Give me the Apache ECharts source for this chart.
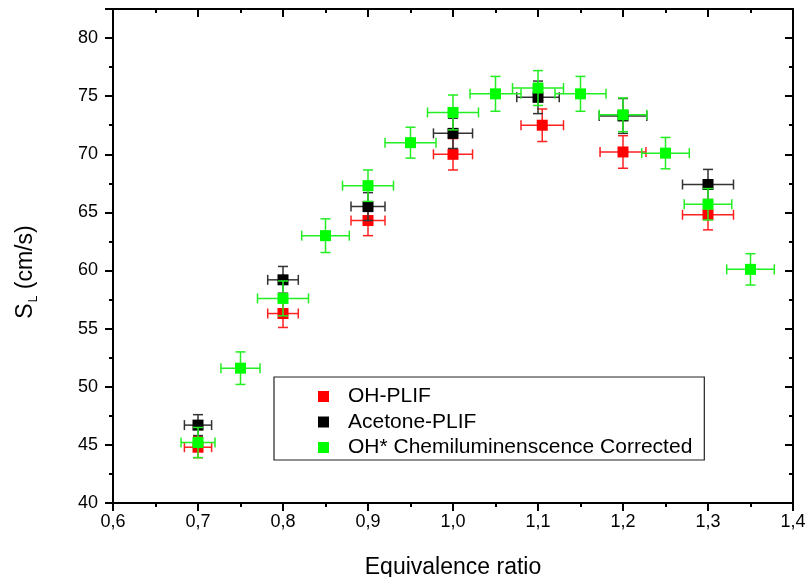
<!DOCTYPE html>
<html>
<head>
<meta charset="utf-8">
<script src="https://cdn.jsdelivr.net/npm/echarts@6/dist/echarts.min.js"></script>
<style>
  html, body { margin: 0; padding: 0; background: #fff; }
  #chart { width: 810px; height: 577px; }
</style>
</head>
<body>
<div id="chart"></div>
<script>
// equivalence ratio, S_L (cm/s), x error, y error
const phiRed = [0.7, 0.8, 0.9, 1.0, 1.105, 1.2, 1.3];
const slRed = [44.8, 56.3, 64.3, 70.0, 72.5, 70.2, 64.8];
const xErrRed = [0.016, 0.018, 0.02, 0.023, 0.025, 0.027, 0.03];
const yErrRed = [0.9, 1.2, 1.3, 1.35, 1.4, 1.4, 1.3];

const phiBlack = [0.7, 0.8, 0.9, 1.0, 1.1, 1.2, 1.3];
const slBlack = [46.7, 59.2, 65.5, 71.8, 74.9, 73.3, 67.4];
const xErrBlack = [0.016, 0.018, 0.02, 0.023, 0.025, 0.028, 0.03];
const yErrBlack = [0.9, 1.15, 1.2, 1.3, 1.4, 1.5, 1.3];

const phiGreen = [0.7, 0.75, 0.8, 0.85, 0.9, 0.95, 1.0, 1.05, 1.1, 1.15, 1.2, 1.25, 1.3, 1.35];
const slGreen = [45.2, 51.6, 57.6, 63.0, 67.3, 71.0, 73.6, 75.2, 75.7, 75.2, 73.4, 70.1, 65.7, 60.1];
const xErrGreen = [0.02, 0.023, 0.03, 0.028, 0.03, 0.03, 0.03, 0.03, 0.03, 0.03, 0.028, 0.028, 0.028, 0.028];
const yErrGreen = [1.3, 1.4, 1.5, 1.45, 1.35, 1.33, 1.5, 1.5, 1.5, 1.5, 1.45, 1.35, 1.35, 1.35];

const seriesNames = ["OH-PLIF", "Acetone-PLIF", "OH* Chemiluminenscence Corrected"];

const FONT = "'Liberation Sans', Arial, sans-serif";

const chart = echarts.init(document.getElementById("chart"), null, { renderer: "canvas" });

function rows(xs, ys, dxs, dys) {
  return xs.map((x, i) => [x, ys[i], dxs[i], dys[i]]);
}

// draws horizontal + vertical error bars with caps
function errorBars(color) {
  return function (params, api) {
    const x = api.value(0);
    const y = api.value(1);
    const dx = api.value(2);
    const dy = api.value(3);
    const c = api.coord([x, y]);
    const l = api.coord([x - dx, y]);
    const r = api.coord([x + dx, y]);
    const t = api.coord([x, y + dy]);
    const b = api.coord([x, y - dy]);
    const cap = 5;
    const style = { stroke: color, lineWidth: 1.5, fill: null };
    return {
      type: "group",
      children: [
        { type: "line", shape: { x1: l[0], y1: c[1], x2: r[0], y2: c[1] }, style },
        { type: "line", shape: { x1: l[0], y1: c[1] - cap, x2: l[0], y2: c[1] + cap }, style },
        { type: "line", shape: { x1: r[0], y1: c[1] - cap, x2: r[0], y2: c[1] + cap }, style },
        { type: "line", shape: { x1: c[0], y1: t[1], x2: c[0], y2: b[1] }, style },
        { type: "line", shape: { x1: c[0] - cap, y1: t[1], x2: c[0] + cap, y2: t[1] }, style },
        { type: "line", shape: { x1: c[0] - cap, y1: b[1], x2: c[0] + cap, y2: b[1] }, style },
      ],
    };
  };
}

const groups = [
  { name: seriesNames[0], color: "#ff0000", bar: "#ff2020", data: rows(phiRed, slRed, xErrRed, yErrRed) },
  { name: seriesNames[1], color: "#000000", bar: "#333333", data: rows(phiBlack, slBlack, xErrBlack, yErrBlack) },
  { name: seriesNames[2], color: "#00ff00", bar: "#22ee22", data: rows(phiGreen, slGreen, xErrGreen, yErrGreen) },
];

const series = [];
groups.forEach((g, i) => {
  series.push({
    type: "custom",
    renderItem: errorBars(g.bar),
    data: g.data,
    encode: { x: 0, y: 1 },
    z: 2 + i * 2,
    silent: true,
  });
  series.push({
    name: g.name,
    type: "scatter",
    symbol: "rect",
    symbolSize: 11,
    itemStyle: { color: g.color, opacity: 1 },
    data: g.data.map((d) => [d[0], d[1]]),
    z: 3 + i * 2,
  });
});

const axisLine = { show: true, onZero: false, lineStyle: { color: "#000", width: 2 } };
const tick = (inside) => ({ show: true, inside, length: 8, lineStyle: { color: "#000", width: 2 } });
const minor = { show: true, splitNumber: 2, length: 4, lineStyle: { color: "#000", width: 2 } };
const fmtX = (v) => v.toFixed(1).replace(".", ",");

const option = {
  animation: false,
  backgroundColor: "#fff",
  textStyle: { fontFamily: FONT },
  grid: { left: 113, right: 17, top: 9, bottom: 74, outerBoundsMode: "none", containLabel: false },
  legend: {
    orient: "vertical",
    left: 274,
    top: 377,
    data: seriesNames,
    icon: "rect",
    itemWidth: 11,
    itemHeight: 11,
    itemGap: 4.5,
    padding: [9, 12, 2, 44],
    borderColor: "#222",
    borderWidth: 1.2,
    textStyle: { fontFamily: FONT, fontSize: 21, color: "#000", lineHeight: 21, padding: [0, 0, 0, 14] },
    selectedMode: false,
  },
  xAxis: [
    {
      type: "value",
      min: 0.6,
      max: 1.4,
      interval: 0.1,
      position: "bottom",
      name: "Equivalence ratio",
      nameLocation: "middle",
      nameGap: 53,
      nameTextStyle: { fontFamily: FONT, fontSize: 23, color: "#000" },
      axisLine,
      axisTick: tick(false),
      minorTick: minor,
      axisLabel: { margin: 10, fontFamily: FONT, fontSize: 18, color: "#000", formatter: fmtX },
      splitLine: { show: false },
    },
    {
      type: "value",
      min: 0.6,
      max: 1.4,
      interval: 0.1,
      position: "top",
      axisLine,
      axisTick: tick(true),
      minorTick: minor,
      axisLabel: { show: false },
      splitLine: { show: false },
    },
  ],
  yAxis: [
    {
      type: "value",
      min: 40,
      max: 82.5,
      interval: 5,
      position: "left",
      name: "{s|S}{sub|L}{s| (cm/s)}",
      nameLocation: "middle",
      nameGap: 73,
      nameTextStyle: {
        fontFamily: FONT,
        fontSize: 23,
        color: "#000",
        padding: [0, 32, 0, 0],
        rich: {
          s: { fontFamily: FONT, fontSize: 23, color: "#000" },
          sub: { fontFamily: FONT, fontSize: 12, color: "#000", padding: [16, 0, 0, 1] },
        },
      },
      axisLine,
      axisTick: tick(false),
      minorTick: minor,
      axisLabel: { margin: 15, fontFamily: FONT, fontSize: 18, color: "#000", showMaxLabel: false,
        formatter: (v) => (v % 5 === 0 ? String(v) : "") },
      splitLine: { show: false },
    },
    {
      type: "value",
      min: 40,
      max: 82.5,
      interval: 5,
      position: "right",
      axisLine,
      axisTick: tick(true),
      minorTick: minor,
      axisLabel: { show: false },
      splitLine: { show: false },
    },
  ],
  series,
};

chart.setOption(option);
</script>
</body>
</html>
